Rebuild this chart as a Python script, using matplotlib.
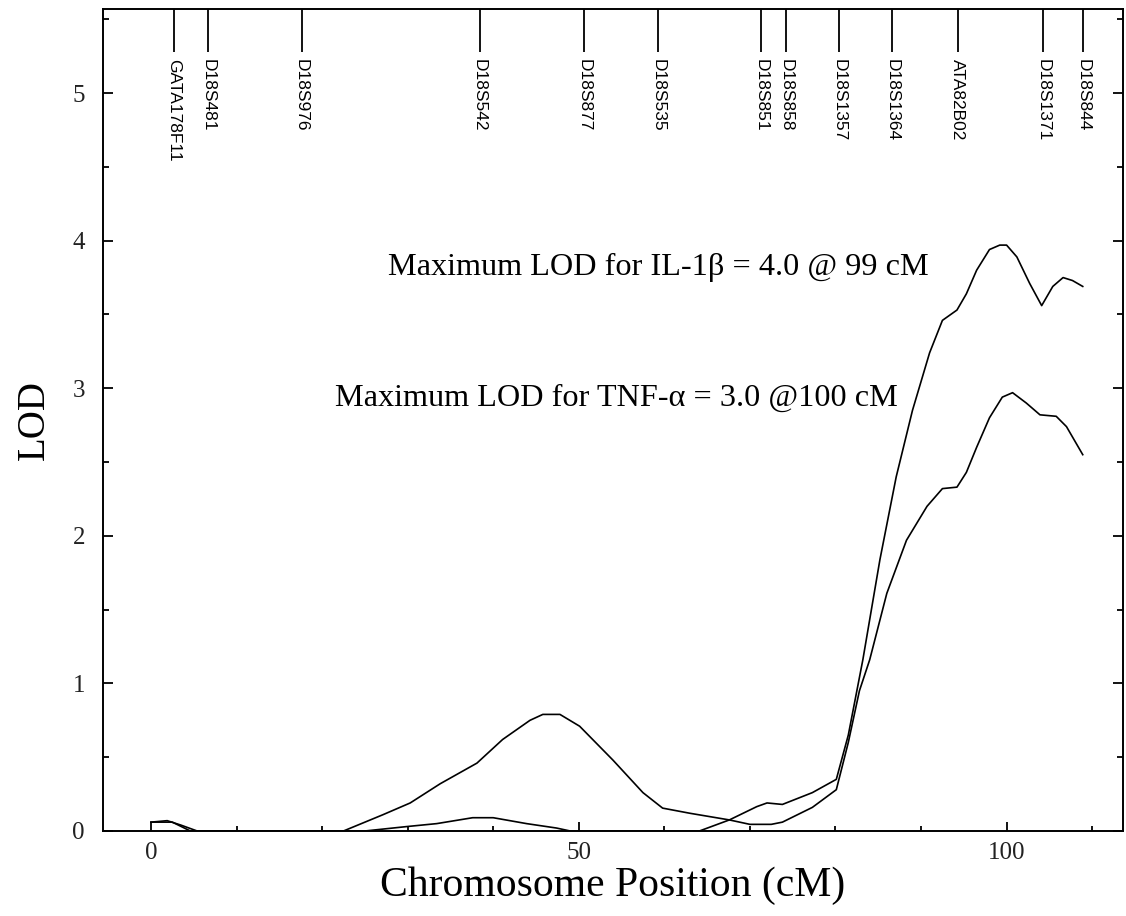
import matplotlib
matplotlib.use("Agg")
import matplotlib.pyplot as plt
from matplotlib.ticker import MultipleLocator

# marker positions along the chromosome (cM)
marker_names = ["GATA178F11", "D18S481", "D18S976", "D18S542", "D18S877", "D18S535",
                "D18S851", "D18S858", "D18S1357", "D18S1364", "ATA82B02", "D18S1371", "D18S844"]
marker_pos = [2.7, 6.7, 17.6, 38.4, 50.6, 59.3, 71.3, 74.2, 80.4, 86.6, 94.3, 104.3, 108.9]

# IL-1beta LOD curve
il1_x = [0, 1.9, 3.5, 5.4, 8.6, 25.0, 29.9, 33.4, 37.6, 40.0, 43.9, 47.4, 49.0, 64.1,
         67.6, 70.8, 72.0, 73.8, 77.3, 80.1, 81.5, 82.5, 83.2, 85.2, 87.1, 89.0, 91.0,
         92.5, 94.2, 95.3, 96.5, 98.0, 99.2, 100.0, 101.2, 102.7, 104.1, 105.4, 106.6,
         107.7, 108.9]
il1_y = [0.06, 0.07, 0.04, 0.0, 0.0, 0.0, 0.03, 0.05, 0.09, 0.09, 0.05, 0.02, 0.0, 0.0,
         0.075, 0.165, 0.19, 0.18, 0.26, 0.35, 0.65, 0.95, 1.16, 1.84, 2.40, 2.85, 3.24,
         3.46, 3.53, 3.64, 3.80, 3.94, 3.97, 3.97, 3.89, 3.71, 3.56, 3.69, 3.75,
         3.73, 3.69]

# TNF-alpha LOD curve
tnf_x = [0, 2.5, 4.6, 8.6, 22.5, 27.1, 30.3, 33.8, 38.1, 41.1, 44.3, 45.8, 47.8, 50.1,
         54.0, 57.5, 59.8, 63.0, 67.6, 70.0, 72.5, 73.8, 77.3, 80.1, 81.5, 82.8, 84.0,
         86.0, 88.3, 90.7, 92.5, 94.2, 95.3, 96.5, 98.0, 99.5, 100.7, 102.3, 103.9,
         105.8, 107.0, 108.9]
tnf_y = [0.06, 0.06, 0.0, 0.0, 0.0, 0.11, 0.19, 0.32, 0.46, 0.62, 0.75, 0.79, 0.79, 0.71,
         0.48, 0.26, 0.155, 0.12, 0.075, 0.045, 0.045, 0.06, 0.16, 0.28, 0.60, 0.95, 1.16,
         1.61, 1.97, 2.20, 2.32, 2.33, 2.43, 2.60, 2.80, 2.94, 2.97, 2.90, 2.82,
         2.81, 2.74, 2.55]

serif = "Liberation Serif"

fig = plt.figure(figsize=(11.26, 9.16), dpi=100)
ax = fig.add_axes([0.0915, 0.0928, 0.9058, 0.8974])

ax.plot(il1_x, il1_y, color="black", lw=1.2)
ax.plot(tnf_x, tnf_y, color="black", lw=1.2)

ax.set_xlim(-5.6, 113.6)
ax.set_ylim(0, 5.57)

ax.xaxis.set_major_locator(MultipleLocator(50))
ax.xaxis.set_minor_locator(MultipleLocator(10))
ax.yaxis.set_major_locator(MultipleLocator(1))
ax.yaxis.set_minor_locator(MultipleLocator(0.5))
ax.tick_params(axis="x", which="both", direction="in", top=False, width=1.3)
ax.tick_params(axis="x", which="major", length=6.5, pad=8)
ax.tick_params(axis="x", which="minor", length=3.6)
ax.tick_params(axis="y", which="both", direction="in", right=True, width=1.3)
ax.tick_params(axis="y", which="major", length=7.5, pad=13)
ax.tick_params(axis="y", which="minor", length=4.5)
for lab in ax.get_xticklabels() + ax.get_yticklabels():
    lab.set_fontfamily(serif)
    lab.set_fontsize(18)
    lab.set_color("#222222")

for s in ax.spines.values():
    s.set_linewidth(1.4)

ax.set_xlabel("Chromosome Position (cM)", fontfamily=serif, fontsize=30, labelpad=2)
ax.set_ylabel("LOD", fontfamily=serif, fontsize=28, labelpad=14)

# markers hanging from the top axis
trans = ax.get_xaxis_transform()
ax.vlines(marker_pos, 0.9477, 1.0, transform=trans, color="black", lw=1.3)
for name, pos in zip(marker_names, marker_pos):
    ax.text(pos, 0.939, name, transform=trans, rotation=270, ha="center", va="top",
            fontfamily="Liberation Sans", fontsize=12.5)

ax.text(27.7, 3.82, "Maximum LOD for IL-1\u03b2 = 4.0 @ 99 cM", fontfamily=serif,
        fontsize=23.2, ha="left", va="center")
ax.text(21.5, 2.93, "Maximum LOD for TNF-\u03b1 = 3.0 @100 cM", fontfamily=serif,
        fontsize=23.2, ha="left", va="center")

fig.savefig("out.png", dpi=100)
